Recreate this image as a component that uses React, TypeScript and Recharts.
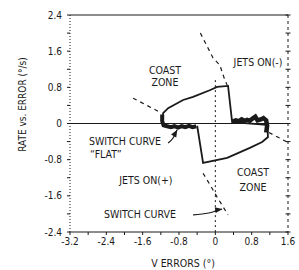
import React from "react";
import {
  LineChart,
  Line,
  XAxis,
  YAxis,
  ReferenceLine,
  ReferenceDot,
} from "recharts";

// phase plane: V error (deg) vs rate (deg/s)
const xTicks = [-3.2, -2.8, -2.4, -2.0, -1.6, -1.2, -0.8, -0.4, 0, 0.4, 0.8, 1.2, 1.6];
const yTicks = [-2.4, -2.0, -1.6, -1.2, -0.8, -0.4, 0, 0.4, 0.8, 1.2, 1.6, 2.0, 2.4];

// limit cycle trajectory
const trajectory = [
  { x: -1.15, y: 0.0 },
  { x: -1.15, y: 0.23 },
  { x: -1.04, y: 0.34 },
  { x: -0.71, y: 0.52 },
  { x: -0.49, y: 0.59 },
  { x: -0.11, y: 0.74 },
  { x: 0.04, y: 0.81 },
  { x: 0.28, y: 0.83 },
  { x: 0.37, y: 0.03 },
  { x: 1.14, y: -0.03 },
  { x: 1.16, y: -0.3 },
  { x: 1.03, y: -0.41 },
  { x: 0.76, y: -0.54 },
  { x: 0.26, y: -0.76 },
  { x: -0.27, y: -0.87 },
  { x: -0.4, y: -0.05 },
];

// jet chatter along the zero-rate line
const chatterRight = [
  { x: 0.38, y: 0.04 },
  { x: 0.45, y: 0.07 },
  { x: 0.52, y: 0.05 },
  { x: 0.58, y: 0.09 },
  { x: 0.64, y: 0.06 },
  { x: 0.7, y: 0.08 },
  { x: 0.76, y: 0.06 },
  { x: 0.82, y: 0.11 },
  { x: 0.88, y: 0.15 },
  { x: 0.93, y: 0.07 },
  { x: 1.0, y: 0.09 },
  { x: 1.06, y: 0.12 },
  { x: 1.12, y: 0.07 },
  { x: 1.14, y: -0.05 },
  { x: 1.12, y: -0.2 },
];
const chatterLeft = [
  { x: -0.42, y: -0.06 },
  { x: -0.5, y: -0.08 },
  { x: -0.58, y: -0.05 },
  { x: -0.66, y: -0.08 },
  { x: -0.74, y: -0.06 },
  { x: -0.82, y: -0.09 },
  { x: -0.9, y: -0.06 },
  { x: -0.98, y: -0.08 },
  { x: -1.06, y: -0.06 },
  { x: -1.14, y: -0.04 },
  { x: -1.17, y: 0.05 },
  { x: -1.17, y: 0.2 },
];

// switch curves (dashed)
const switchUpper = [
  { x: -0.33, y: 2.0 },
  { x: -0.05, y: 1.45 },
  { x: 0.1, y: 1.29 },
  { x: 0.21, y: 0.96 },
  { x: 0.26, y: 0.85 },
];
const switchLower = [
  { x: -0.27, y: -1.1 },
  { x: -0.05, y: -1.47 },
  { x: 0.04, y: -1.63 },
  { x: 0.28, y: -2.02 },
];
const flatLeft = [
  { x: -1.81, y: 0.56 },
  { x: -1.22, y: 0.25 },
];
const flatRight = [
  { x: 1.18, y: -0.2 },
  { x: 1.6, y: -0.42 },
];
const zeroErrorLine = [
  { x: 0, y: 0.96 },
  { x: 0, y: -2.4 },
];

// plot frame (top solid, right dashed)
const frameTop = [
  { x: -3.2, y: 2.4 },
  { x: 1.6, y: 2.4 },
];
const frameRight = [
  { x: 1.6, y: 2.4 },
  { x: 1.6, y: -2.4 },
];

// annotation arrows
const arrowFlat = [
  { x: -1.04, y: -0.43 },
  { x: -0.93, y: -0.32 },
  { x: -0.84, y: -0.14 },
];
const arrowSwitch = [
  { x: -0.49, y: -2.02 },
  { x: -0.15, y: -1.98 },
  { x: 0.15, y: -1.89 },
];

const labels = [
  { text: "COAST", x: -1.11, y: 1.18 },
  { text: "ZONE", x: -1.11, y: 0.92 },
  { text: "JETS ON(-)", x: 0.94, y: 1.36 },
  { text: "SWITCH CURVE", x: -1.99, y: -0.39 },
  { text: "\u201CFLAT\u201D", x: -2.41, y: -0.67 },
  { text: "JETS ON(+)", x: -1.53, y: -1.25 },
  { text: "COAST", x: 0.83, y: -1.07 },
  { text: "ZONE", x: 0.83, y: -1.4 },
  { text: "SWITCH CURVE", x: -1.66, y: -2.0 },
];

const INK = "#1a1a1a";
const FONT = "'DejaVu Sans Condensed', 'Liberation Sans Narrow', sans-serif";

const fmt = (v: number) => {
  const q = v / 0.8;
  if (Math.abs(q - Math.round(q)) > 1e-6) return "";
  return Math.abs(v) < 1e-9 ? "0" : v.toFixed(1);
};

const arrowDot = (angle: number, n: number) => (p: any) => {
  if (p.index !== n - 1) return <g key={p.index} />;
  return (
    <polygon
      key={p.index}
      points="0,0 -7,-3 -7,3"
      fill={INK}
      transform={`translate(${p.cx},${p.cy}) rotate(${angle})`}
    />
  );
};

const tickMark = (p: any) => (
  <line
    key={p.index}
    x1={p.cx - 2.5}
    x2={p.cx + 2.5}
    y1={p.cy}
    y2={p.cy}
    stroke={INK}
    strokeWidth={1}
  />
);

const lineProps = {
  dataKey: "y",
  stroke: INK,
  dot: false,
  activeDot: false,
  isAnimationActive: false,
} as const;

export default function App() {
  return (
    <div style={{ position: "absolute", left: 0, top: 0, background: "#fff" }}>
      <LineChart
        width={299}
        height={270}
        margin={{ top: 15, right: 11, left: 30, bottom: 8 }}
      >
        <XAxis
          dataKey="x"
          type="number"
          domain={[-3.2, 1.6]}
          ticks={xTicks}
          tickFormatter={fmt}
          height={30}
          stroke={INK}
          tickSize={3}
          tickMargin={3}
          tick={{ fontSize: 10, fill: INK, fontFamily: FONT }}
          label={{
            content: ({ viewBox }: any) => (
              <text
                x={viewBox.x + viewBox.width / 2 + 4}
                y={viewBox.y + 31}
                textAnchor="middle"
                dominantBaseline="central"
                fontSize={10.5}
                fontFamily={FONT}
                fill={INK}
              >
                V ERRORS  (°)
              </text>
            ),
          }}
        />
        <YAxis
          type="number"
          domain={[-2.4, 2.4]}
          ticks={yTicks}
          tickFormatter={fmt}
          width={40}
          stroke={INK}
          axisLine={{ stroke: INK, strokeDasharray: "1 2" }}
          tickSize={3}
          tickMargin={5}
          tick={{ fontSize: 10, fill: INK, fontFamily: FONT }}
          label={{
            content: ({ viewBox }: any) => {
              const cx = viewBox.x - 8;
              const cy = viewBox.y + viewBox.height / 2 - 19;
              return (
                <text
                  x={cx}
                  y={cy}
                  transform={`rotate(-90, ${cx}, ${cy})`}
                  textAnchor="middle"
                  dominantBaseline="central"
                  fontSize={10}
                  fontFamily={FONT}
                  fill={INK}
                >
                  RATE vs. ERROR (°/s)
                </text>
              );
            },
          }}
        />

        <ReferenceLine y={0} stroke={INK} strokeWidth={1.2} />

        <Line {...lineProps} data={frameTop} strokeWidth={1.2} />
        <Line {...lineProps} data={frameRight} strokeWidth={1} strokeDasharray="3 3" />
        <Line
          {...lineProps}
          data={yTicks.map((v) => ({ x: 1.6, y: v }))}
          stroke="none"
          dot={tickMark}
        />

        <Line {...lineProps} data={zeroErrorLine} strokeWidth={1} strokeDasharray="2 3" />
        <Line {...lineProps} data={switchUpper} strokeWidth={1.2} strokeDasharray="4 4" />
        <Line {...lineProps} data={switchLower} strokeWidth={1.2} strokeDasharray="4 4" />
        <Line {...lineProps} data={flatLeft} strokeWidth={1.2} strokeDasharray="4 4" />
        <Line {...lineProps} data={flatRight} strokeWidth={1.2} strokeDasharray="4 4" />

        <Line {...lineProps} data={trajectory} strokeWidth={1.8} />
        <Line {...lineProps} data={chatterRight} strokeWidth={4.5} />
        <Line {...lineProps} data={chatterLeft} strokeWidth={4} />

        <Line {...lineProps} type="monotone" data={arrowFlat} strokeWidth={1.2} dot={arrowDot(-60, arrowFlat.length)} />
        <Line {...lineProps} type="monotone" data={arrowSwitch} strokeWidth={1.2} dot={arrowDot(-10, arrowSwitch.length)} />

        {labels.map((l, i) => (
          <ReferenceDot
            key={i}
            x={l.x}
            y={l.y}
            r={0}
            stroke="none"
            fill="none"
            label={{
              value: l.text,
              position: "center",
              fontSize: 10.5,
              fontFamily: FONT,
              fill: INK,
            }}
          />
        ))}
      </LineChart>
    </div>
  );
}
